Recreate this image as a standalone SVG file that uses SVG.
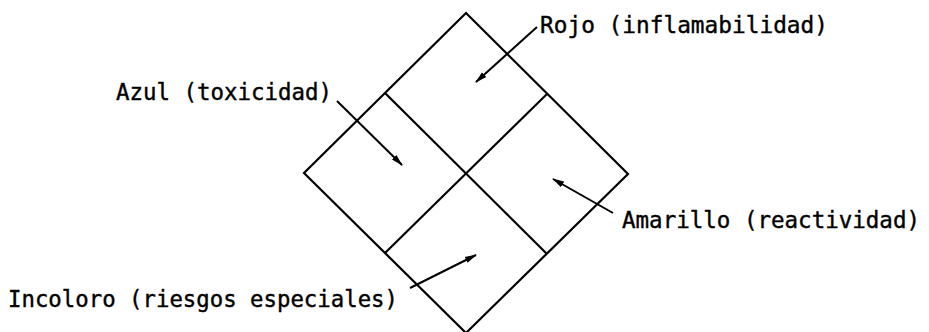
<svg xmlns="http://www.w3.org/2000/svg" width="929" height="332" viewBox="0 0 929 332">
<style>
.ln{fill:none;stroke:#000;stroke-width:2.2;stroke-linejoin:miter}
.ar{fill:none;stroke:#000;stroke-width:2;marker-end:url(#ah)}
.t{font-family:"DejaVu Sans Mono","Liberation Mono",monospace;font-size:23px;fill:#000;stroke:#000;stroke-width:0.4}
</style>
<defs>
<marker id="ah" viewBox="0 0 12 8" refX="11" refY="4" markerWidth="12" markerHeight="8" markerUnits="userSpaceOnUse" orient="auto">
<path d="M0,0.8 L12,4 L0,7.2 Z" fill="#000"/>
</marker>
</defs>
<g id="diamond">
<path class="ln" d="M466,13 L628,174 L466,333 L304,173 Z"/>
<line class="ln" x1="385" y1="93" x2="547" y2="254"/>
<line class="ln" x1="547" y1="94" x2="385" y2="253"/>
</g>
<g id="connectors">
<line class="ar" x1="537" y1="27" x2="476" y2="82"/>
<line class="ar" x1="337" y1="101" x2="402" y2="165"/>
<line class="ar" x1="613" y1="213" x2="553" y2="179"/>
<line class="ar" x1="410" y1="288" x2="476" y2="255"/>
</g>
<g id="rojo"><text class="t" x="540" y="33" textLength="288" lengthAdjust="spacingAndGlyphs">Rojo (inflamabilidad)</text></g>
<g id="azul"><text class="t" x="116" y="100" textLength="216" lengthAdjust="spacingAndGlyphs">Azul (toxicidad)</text></g>
<g id="amarillo"><text class="t" x="622" y="228" textLength="298" lengthAdjust="spacingAndGlyphs">Amarillo (reactividad)</text></g>
<g id="incoloro"><text class="t" x="8" y="307" textLength="390" lengthAdjust="spacingAndGlyphs">Incoloro (riesgos especiales)</text></g>
</svg>
